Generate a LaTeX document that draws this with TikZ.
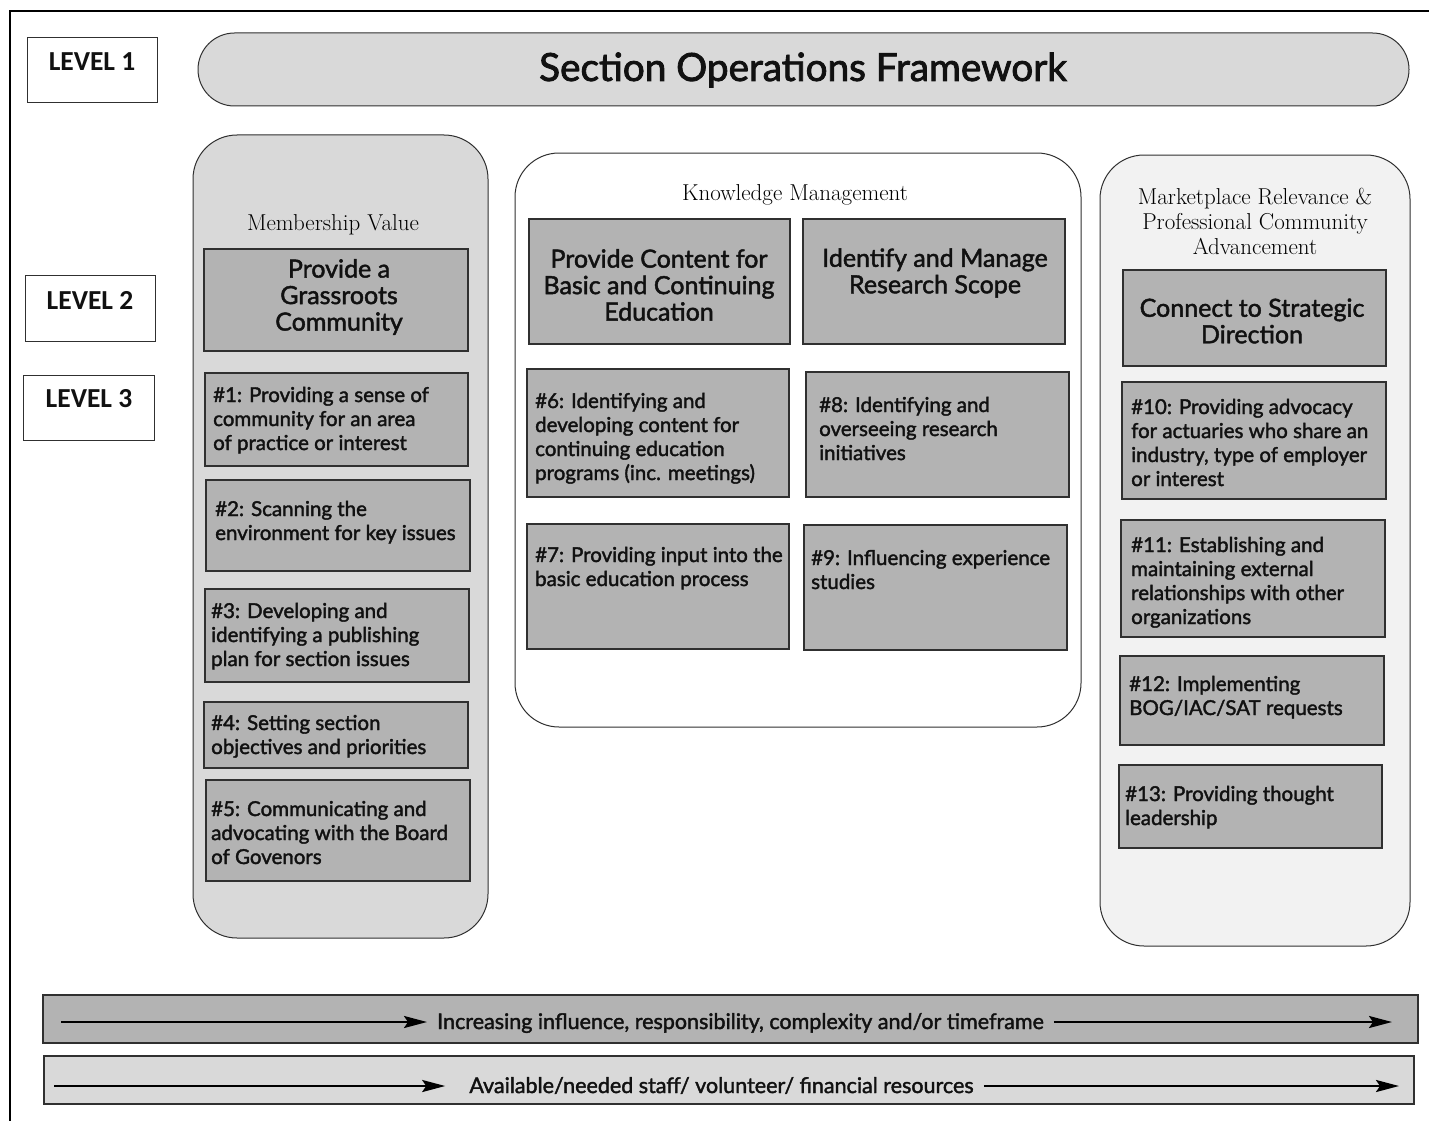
\documentclass[tikz,border=0pt]{standalone}
\usepackage{fontspec}
\usetikzlibrary{fit,arrows.meta}
\newfontfamily\futf[FakeBold=1.8]{Lato}
\newfontfamily\futt[FakeBold=2.2]{Lato}
\newfontfamily\lvlf{Carlito}
\definecolor{dgray}{HTML}{B3B3B3}
\definecolor{lgray}{HTML}{D9D9D9}
\definecolor{vlgray}{HTML}{F2F2F2}
\definecolor{ink}{HTML}{111111}
\definecolor{edge}{HTML}{303030}
\newcommand\lt[1]{\parbox[t]{300pt}{\raggedright #1}}
\begin{document}
\begin{tikzpicture}[x=1pt,y=-1pt,
  lvl/.style={draw=edge, line width=1pt, fill=white, inner sep=0pt},
  lvltext/.style={font=\lvlf\bfseries\fontsize{27.5}{30}\selectfont, text=ink, inner sep=0pt},
  cont/.style={draw=edge, line width=1pt, rounded corners=44pt, inner sep=0pt},
  hdr/.style={font=\fontsize{23}{25}\selectfont, align=center, text=black, inner sep=0pt},
  ltwo/.style={draw=edge, line width=1.3pt, fill=dgray, inner sep=0pt},
  ltwotext/.style={font=\futf\fontsize{25}{26.5}\selectfont, align=center, text=ink, inner sep=0pt},
  lthreetext/.style={font=\futf\fontsize{20.5}{24}\selectfont, text=ink, inner sep=0pt, anchor=base west},
  bartext/.style={font=\futf\fontsize{21.5}{22}\selectfont, text=ink, inner sep=0pt, anchor=base},
  arr/.style={line width=2.4pt, -{Stealth[length=23pt,width=12pt,inset=4pt]}}
]
\useasboundingbox (0,0) rectangle (1429,1121);
% frame
\draw[line width=2pt, black] (9.5,1121) -- (9.5,11.5) -- (1429,11.5);

% level labels
\node[lvl, fit={(27,38)(157,103)}] (lv1) {};
\node[lvltext] (lv1t) at (92,62) {LEVEL 1};
\node[lvl, fit={(25,275)(155,341)}] (lv2) {};
\node[lvltext] (lv2t) at (90,300) {LEVEL 2};
\node[lvl, fit={(23,375)(154,440)}] (lv3) {};
\node[lvltext] (lv3t) at (89,399) {LEVEL 3};

% title
\node[draw=edge, line width=1pt, fill=lgray, rounded corners=36.5pt, inner sep=0pt, fit={(198,33)(1409,106)}] (title) {};
\node[font=\futt\fontsize{38.7}{40}\selectfont, text=ink, inner sep=0pt] (titlet) at (803,70) {Section Operations Framework};

% containers
\node[cont, fill=lgray, fit={(193,135)(488,938)}] (cmv) {};
\node[cont, fill=white, fit={(515,153)(1081,727)}] (ckm) {};
\node[cont, fill=vlgray, fit={(1100,155)(1410,946)}] (cmr) {};

\node[hdr] (hmv) at (333,225) {Membership Value};
\node[hdr] (hkm) at (795,195) {Knowledge Management};
\node[hdr] (hmr) at (1255,221) {Marketplace Relevance \&\\Professional Community\\Advancement};

% level 2 boxes
\node[ltwo, fit={(204,249)(468,351)}] (g0) {};
\node[ltwotext] (g0t) at (339,297) {Provide a\\Grassroots\\Community};
\node[ltwo, fit={(529,219)(790,344)}] (k0) {};
\node[ltwotext] (k0t) at (659,285) {Provide Content for\\Basic and Continuing\\Education};
\node[ltwo, fit={(803,219)(1065,344)}] (r0) {};
\node[ltwotext] (r0t) at (935,273) {Identify and Manage\\Research Scope};
\node[ltwo, fit={(1123,270)(1386,366)}] (m0) {};
\node[ltwotext] (m0t) at (1252,321) {Connect to Strategic\\Direction};

% level 3 boxes - left
\node[ltwo, fit={(205,373)(468,466)}] (b1) {};
\node[lthreetext] (b1t) at (213,402) {\lt{\#1: Providing a sense of\\community for an area\\of practice or interest}};
\node[ltwo, fit={(206,480)(470,571)}] (b2) {};
\node[lthreetext] (b2t) at (215,516) {\lt{\#2: Scanning the\\environment for key issues}};
\node[ltwo, fit={(205,589)(469,682)}] (b3) {};
\node[lthreetext] (b3t) at (211,618) {\lt{\#3: Developing and\\identifying a publishing\\plan for section issues}};
\node[ltwo, fit={(204,702)(468,768)}] (b4) {};
\node[lthreetext] (b4t) at (211,730) {\lt{\#4: Setting section\\objectives and priorities}};
\node[ltwo, fit={(206,780)(470,881)}] (b5) {};
\node[lthreetext] (b5t) at (211,816) {\lt{\#5: Communicating and\\advocating with the Board\\of Govenors}};

% middle
\node[ltwo, fit={(527,369)(789,497)}] (b6) {};
\node[lthreetext] (b6t) at (535,408) {\lt{\#6: Identifying and\\developing content for\\continuing education\\programs (inc. meetings)}};
\node[ltwo, fit={(806,372)(1069,497)}] (b8) {};
\node[lthreetext] (b8t) at (819,412) {\lt{\#8: Identifying and\\overseeing research\\initiatives}};
\node[ltwo, fit={(527,524)(789,649)}] (b7) {};
\node[lthreetext] (b7t) at (535,562) {\lt{\#7: Providing input into the\\basic education process}};
\node[ltwo, fit={(804,525)(1067,650)}] (b9) {};
\node[lthreetext] (b9t) at (811,565) {\lt{\#9: Influencing experience\\studies}};

% right
\node[ltwo, fit={(1122,382)(1386,499)}] (b10) {};
\node[lthreetext] (b10t) at (1131,414) {\lt{\#10: Providing advocacy\\for actuaries who share an\\industry, type of employer\\or interest}};
\node[ltwo, fit={(1121,520)(1385,637)}] (b11) {};
\node[lthreetext] (b11t) at (1131,552) {\lt{\#11: Establishing and\\maintaining external\\relationships with other\\organizations}};
\node[ltwo, fit={(1120,656)(1384,745)}] (b12) {};
\node[lthreetext] (b12t) at (1129,691) {\lt{\#12: Implementing\\BOG/IAC/SAT requests}};
\node[ltwo, fit={(1119,765)(1382,848)}] (b13) {};
\node[lthreetext] (b13t) at (1125,801) {\lt{\#13: Providing thought\\leadership}};

% bottom bars
\node[ltwo, fit={(43,995)(1418,1043)}] (bar1) {};
\node[bartext] (bar1t) at (740.5,1029) {Increasing influence, responsibility, complexity and/or timeframe};
\coordinate (a1s) at (61,1022);
\coordinate (a1e) at (1392,1022);
\draw[arr] (a1s) -- ([xshift=-10pt]a1s -| bar1t.west);
\draw[arr] ([xshift=10pt]a1e -| bar1t.east) -- (a1e);

\node[draw=edge, line width=1.3pt, fill=lgray, inner sep=0pt, fit={(44,1056)(1414,1104)}] (bar2) {};
\node[bartext] (bar2t) at (721.5,1093) {Available/needed staff/ volunteer/ financial resources};
\coordinate (a2s) at (54,1086);
\coordinate (a2e) at (1399,1086);
\draw[arr] (a2s) -- ([xshift=-24pt]a2s -| bar2t.west);
\draw[arr] ([xshift=10pt]a2e -| bar2t.east) -- (a2e);
\end{tikzpicture}
\end{document}
